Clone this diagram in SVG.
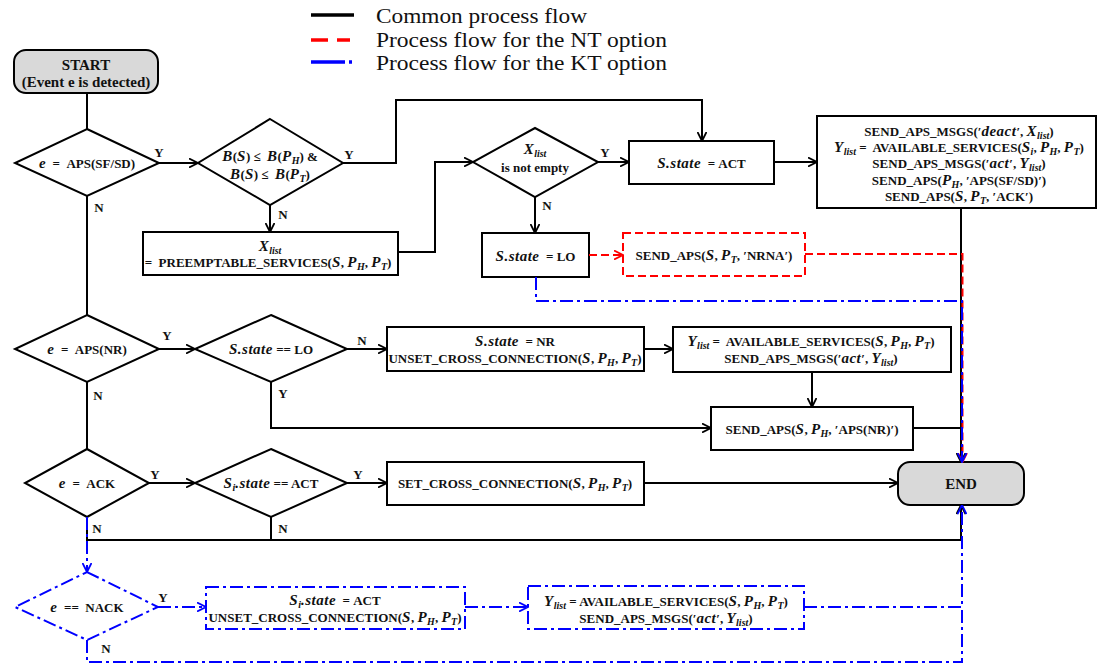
<svg xmlns="http://www.w3.org/2000/svg" width="1097" height="664" viewBox="0 0 1097 664">
<style>
.t{font-family:"Liberation Serif","Times New Roman",serif;font-weight:bold;font-size:13px;fill:#111;text-anchor:middle}
.big{font-size:15px}
.m{font-style:italic;font-size:15px;letter-spacing:0.5px}
.s{font-style:italic;font-size:10px}
.yn{font-family:"Liberation Serif","Times New Roman",serif;font-weight:bold;font-size:13px;text-anchor:middle;fill:#111}
.nd{fill:#fff;stroke:#000;stroke-width:2}
.gr{fill:#d9d9d9;stroke:#000;stroke-width:2}
.bl{fill:#fff;stroke:#0000ff;stroke-width:2;stroke-dasharray:13 4 3 4}
.rd{fill:#fff;stroke:#ff0000;stroke-width:2;stroke-dasharray:8 4}
.c{fill:none;stroke:#000;stroke-width:2}
.cr{fill:none;stroke:#f00;stroke-width:2;stroke-dasharray:8 4}
.cb{fill:none;stroke:#00f;stroke-width:2;stroke-dasharray:13 4 3 4}
.leg{font-family:"Liberation Serif","Times New Roman",serif;font-size:20.5px;fill:#111}
</style>
<defs>
<marker id="ak" viewBox="0 0 10 10" refX="9.5" refY="5" markerWidth="10" markerHeight="10" markerUnits="userSpaceOnUse" orient="auto"><path d="M0.5,0.5 L9.5,5 L0.5,9.5" fill="none" stroke="#000" stroke-width="1.8"/></marker>
<marker id="ar" viewBox="0 0 10 10" refX="9.5" refY="5" markerWidth="10" markerHeight="10" markerUnits="userSpaceOnUse" orient="auto"><path d="M0.5,0.5 L9.5,5 L0.5,9.5" fill="none" stroke="#f00" stroke-width="1.8"/></marker>
<marker id="ab" viewBox="0 0 10 10" refX="9.5" refY="5" markerWidth="10" markerHeight="10" markerUnits="userSpaceOnUse" orient="auto"><path d="M0.5,0.5 L9.5,5 L0.5,9.5" fill="none" stroke="#00f" stroke-width="1.8"/></marker>
</defs>

<g id="legend">
<line x1="311" y1="15" x2="354" y2="15" stroke="#000" stroke-width="3.5"/>
<line x1="311" y1="40" x2="350" y2="40" stroke="#f00" stroke-width="3.5" stroke-dasharray="17 9"/>
<line x1="311" y1="62" x2="352" y2="62" stroke="#00f" stroke-width="3.5" stroke-dasharray="34 4 3 20"/>
<text class="leg" x="376" y="23" textLength="211" lengthAdjust="spacingAndGlyphs">Common process flow</text>
<text class="leg" x="376" y="47" textLength="291" lengthAdjust="spacingAndGlyphs">Process flow for the NT option</text>
<text class="leg" x="376" y="70" textLength="291" lengthAdjust="spacingAndGlyphs">Process flow for the KT option</text>
</g>

<g id="start"><rect class="gr" x="14" y="50" width="144" height="43" rx="12"/>
<text class="t big" x="86" y="70">START</text>
<text class="t big" x="86" y="87">(Event e is detected)</text></g>

<g id="d1"><polygon class="nd" points="87,129 159,163 87,196 15,163"/>
<text class="t" x="87" y="167.5"><tspan class="m">e</tspan>&#160;&#160;=&#160;&#160;APS(SF/SD)</text></g>

<g id="d2"><polygon class="nd" points="270,119 343,163 270,205 198,163"/>
<text class="t" x="270" y="161"><tspan class="m">B</tspan>(<tspan class="m">S</tspan>) ≤&#160; <tspan class="m">B</tspan>(<tspan class="m">P</tspan><tspan class="s" dy="3">H</tspan><tspan dy="-3">) &amp;</tspan></text>
<text class="t" x="270" y="179"><tspan class="m">B</tspan>(<tspan class="m">S</tspan>) ≤&#160; <tspan class="m">B</tspan>(<tspan class="m">P</tspan><tspan class="s" dy="3">T</tspan><tspan dy="-3">)</tspan></text></g>

<g id="preempt"><rect class="nd" x="143" y="232" width="255" height="43"/>
<text class="t" x="270" y="251"><tspan class="m">X</tspan><tspan class="s" dy="3">list</tspan></text>
<text class="t" x="268" y="267">=&#160; PREEMPTABLE_SERVICES(<tspan class="m">S</tspan>, <tspan class="m">P</tspan><tspan class="s" dy="3">H</tspan><tspan dy="-3">, </tspan><tspan class="m">P</tspan><tspan class="s" dy="3">T</tspan><tspan dy="-3">)</tspan></text></g>

<g id="d3"><polygon class="nd" points="535,128 598,162 535,197 473,162"/>
<text class="t" x="535" y="154"><tspan class="m">X</tspan><tspan class="s" dy="3">list</tspan></text>
<text class="t" x="535" y="171.5">is not empty</text></g>

<g id="act"><rect class="nd" x="629" y="141" width="145" height="43"/>
<text class="t" x="701.5" y="167.5"><tspan class="m">S.state</tspan>&#160;&#160;=&#160;ACT</text></g>

<g id="bigbox"><rect class="nd" x="817" y="116" width="279" height="92"/>
<text class="t" x="959" y="135.5">SEND_APS_MSGS(′<tspan class="m">deact</tspan>′, <tspan class="m">X</tspan><tspan class="s" dy="3">list</tspan><tspan dy="-3">)</tspan></text>
<text class="t" x="959" y="152"><tspan class="m">Y</tspan><tspan class="s" dy="3">list</tspan><tspan dy="-3"> =&#160; AVAILABLE_SERVICES(</tspan><tspan class="m">S</tspan><tspan class="s" dy="3">i</tspan><tspan dy="-3">, </tspan><tspan class="m">P</tspan><tspan class="s" dy="3">H</tspan><tspan dy="-3">, </tspan><tspan class="m">P</tspan><tspan class="s" dy="3">T</tspan><tspan dy="-3">)</tspan></text>
<text class="t" x="959" y="168">SEND_APS_MSGS(′<tspan class="m">act</tspan>′, <tspan class="m">Y</tspan><tspan class="s" dy="3">list</tspan><tspan dy="-3">)</tspan></text>
<text class="t" x="959" y="184.5">SEND_APS(<tspan class="m">P</tspan><tspan class="s" dy="3">H</tspan><tspan dy="-3">, ′APS(SF/SD)′)</tspan></text>
<text class="t" x="959" y="201">SEND_APS(<tspan class="m">S</tspan>, <tspan class="m">P</tspan><tspan class="s" dy="3">T</tspan><tspan dy="-3">, ′ACK′)</tspan></text></g>

<g id="lo"><rect class="nd" x="482" y="233" width="107" height="44"/>
<text class="t" x="535.5" y="260.5"><tspan class="m">S.state</tspan>&#160;&#160;=&#160;LO</text></g>

<g id="nrna"><rect class="rd" x="623" y="233" width="182" height="43"/>
<text class="t" x="714" y="259.5">SEND_APS(<tspan class="m">S</tspan>, <tspan class="m">P</tspan><tspan class="s" dy="3">T</tspan><tspan dy="-3">, ′NRNA′)</tspan></text></g>

<g id="d4"><polygon class="nd" points="87,315 159,349 87,382 15,349"/>
<text class="t" x="87" y="353.5"><tspan class="m">e</tspan>&#160;&#160;=&#160;&#160;APS(NR)</text></g>

<g id="d5"><polygon class="nd" points="271,315 347,349 271,382 195,349"/>
<text class="t" x="271" y="353.5"><tspan class="m">S.state</tspan> == LO</text></g>

<g id="nr"><rect class="nd" x="387" y="327" width="257" height="44"/>
<text class="t" x="515" y="345.5"><tspan class="m">S.state</tspan>&#160;&#160;=&#160;NR</text>
<text class="t" x="515" y="362.5">UNSET_CROSS_CONNECTION(<tspan class="m">S</tspan>, <tspan class="m">P</tspan><tspan class="s" dy="3">H</tspan><tspan dy="-3">, </tspan><tspan class="m">P</tspan><tspan class="s" dy="3">T</tspan><tspan dy="-3">)</tspan></text></g>

<g id="ylist1"><rect class="nd" x="673" y="327" width="278" height="45"/>
<text class="t" x="811" y="345.5"><tspan class="m">Y</tspan><tspan class="s" dy="3">list</tspan><tspan dy="-3"> =&#160; AVAILABLE_SERVICES(</tspan><tspan class="m">S</tspan>, <tspan class="m">P</tspan><tspan class="s" dy="3">H</tspan><tspan dy="-3">, </tspan><tspan class="m">P</tspan><tspan class="s" dy="3">T</tspan><tspan dy="-3">)</tspan></text>
<text class="t" x="811" y="362.5">SEND_APS_MSGS(′<tspan class="m">act</tspan>′, <tspan class="m">Y</tspan><tspan class="s" dy="3">list</tspan><tspan dy="-3">)</tspan></text></g>

<g id="sendnr"><rect class="nd" x="711" y="407" width="202" height="43"/>
<text class="t" x="812" y="433.5">SEND_APS(<tspan class="m">S</tspan>, <tspan class="m">P</tspan><tspan class="s" dy="3">H</tspan><tspan dy="-3">, ′APS(NR)′)</tspan></text></g>

<g id="d6"><polygon class="nd" points="87,449 149,483 87,517 25,483"/>
<text class="t" x="87" y="487.5"><tspan class="m">e</tspan>&#160;&#160;=&#160;&#160;ACK</text></g>

<g id="d7"><polygon class="nd" points="271,449 347,483 271,517 195,483"/>
<text class="t" x="271" y="487.5"><tspan class="m">S</tspan><tspan class="s" dy="3">i</tspan><tspan class="m" dy="-3">.state</tspan> == ACT</text></g>

<g id="setcc"><rect class="nd" x="387" y="462" width="257" height="43"/>
<text class="t" x="515" y="488">SET_CROSS_CONNECTION(<tspan class="m">S</tspan>, <tspan class="m">P</tspan><tspan class="s" dy="3">H</tspan><tspan dy="-3">, </tspan><tspan class="m">P</tspan><tspan class="s" dy="3">T</tspan><tspan dy="-3">)</tspan></text></g>

<g id="end"><rect class="gr" x="898" y="462" width="126" height="43" rx="12"/>
<text class="t big" x="961" y="488.5">END</text></g>

<g id="d8"><polygon class="bl" points="87,572 158,607 87,640 15,607"/>
<text class="t" x="87" y="611.5"><tspan class="m">e</tspan>&#160;&#160;==&#160;&#160;NACK</text></g>

<g id="kt1"><rect class="bl" x="206" y="587" width="259" height="42"/>
<text class="t" x="335" y="605"><tspan class="m">S</tspan><tspan class="s" dy="3">i</tspan><tspan class="m" dy="-3">.state</tspan>&#160;&#160;=&#160;ACT</text>
<text class="t" x="335" y="622">UNSET_CROSS_CONNECTION(<tspan class="m">S</tspan>, <tspan class="m">P</tspan><tspan class="s" dy="3">H</tspan><tspan dy="-3">, </tspan><tspan class="m">P</tspan><tspan class="s" dy="3">T</tspan><tspan dy="-3">)</tspan></text></g>

<g id="kt2"><rect class="bl" x="528" y="586" width="276" height="43"/>
<text class="t" x="666" y="606"><tspan class="m">Y</tspan><tspan class="s" dy="3">list</tspan><tspan dy="-3"> = AVAILABLE_SERVICES(</tspan><tspan class="m">S</tspan>, <tspan class="m">P</tspan><tspan class="s" dy="3">H</tspan><tspan dy="-3">, </tspan><tspan class="m">P</tspan><tspan class="s" dy="3">T</tspan><tspan dy="-3">)</tspan></text>
<text class="t" x="666" y="622.5">SEND_APS_MSGS(′<tspan class="m">act</tspan>′, <tspan class="m">Y</tspan><tspan class="s" dy="3">list</tspan><tspan dy="-3">)</tspan></text></g>

<g id="connectors">
<path class="c" d="M87,93 V129"/>
<path class="c" d="M159,163 H198" marker-end="url(#ak)"/>
<path class="c" d="M343,163 H396 V100 H702 V141" marker-end="url(#ak)"/>
<path class="c" d="M270,205 V232" marker-end="url(#ak)"/>
<path class="c" d="M398,252 H435 V162 H473" marker-end="url(#ak)"/>
<path class="c" d="M598,162 H629" marker-end="url(#ak)"/>
<path class="c" d="M535,197 V233" marker-end="url(#ak)"/>
<path class="c" d="M774,162 H817" marker-end="url(#ak)"/>
<path class="c" d="M961,208 V462" marker-end="url(#ak)"/>
<path class="c" d="M87,196 V315"/>
<path class="c" d="M159,349 H195" marker-end="url(#ak)"/>
<path class="c" d="M347,349 H387" marker-end="url(#ak)"/>
<path class="c" d="M271,382 V428 H711" marker-end="url(#ak)"/>
<path class="c" d="M644,349 H673" marker-end="url(#ak)"/>
<path class="c" d="M812,372 V407" marker-end="url(#ak)"/>
<path class="c" d="M913,428 H961"/>
<path class="c" d="M87,382 V449"/>
<path class="c" d="M149,483 H195" marker-end="url(#ak)"/>
<path class="c" d="M347,483 H387" marker-end="url(#ak)"/>
<path class="c" d="M644,483 H898" marker-end="url(#ak)"/>
<path class="c" d="M87,517 V540 H961 V505" marker-end="url(#ak)"/>
<path class="c" d="M271,517 V540"/>
<path class="cr" d="M589,255 H623" marker-end="url(#ar)"/>
<path class="cr" d="M805,254 H962.5 V462" marker-end="url(#ar)"/>
<path class="cb" d="M536,277 V301 H962 V462" marker-end="url(#ab)"/>
<path class="cb" d="M87,517 V572" marker-end="url(#ab)"/>
<path class="cb" d="M158,607 H206" marker-end="url(#ab)"/>
<path class="cb" d="M465,607 H528" marker-end="url(#ab)"/>
<path class="cb" d="M804,607 H962 V505" marker-end="url(#ab)"/>
<path class="cb" d="M87,640 V662 H962 V607"/>
</g>

<g id="labels">
<text class="yn" x="159" y="156.5">Y</text>
<text class="yn" x="99" y="211.5">N</text>
<text class="yn" x="349" y="158.5">Y</text>
<text class="yn" x="283" y="218.5">N</text>
<text class="yn" x="605" y="156.5">Y</text>
<text class="yn" x="547" y="209.5">N</text>
<text class="yn" x="167" y="339.5">Y</text>
<text class="yn" x="98" y="399.5">N</text>
<text class="yn" x="362" y="344.5">N</text>
<text class="yn" x="283" y="397.5">Y</text>
<text class="yn" x="155" y="478.5">Y</text>
<text class="yn" x="97" y="532.5">N</text>
<text class="yn" x="358" y="478.5">Y</text>
<text class="yn" x="283" y="532.5">N</text>
<text class="yn" x="163" y="601.5">Y</text>
<text class="yn" x="106" y="652.5">N</text>
</g>
</svg>
